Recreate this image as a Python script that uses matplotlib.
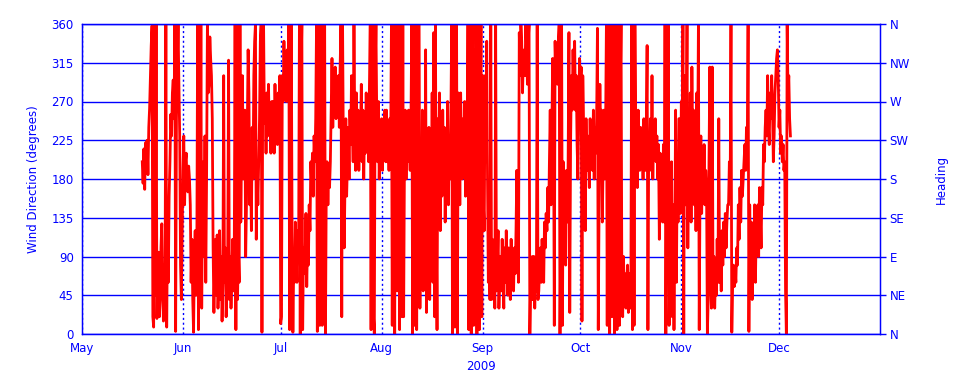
import numpy as np
import pandas as pd
import matplotlib
matplotlib.use("Agg")
import matplotlib.pyplot as plt
import matplotlib.dates as mdates

# wind direction (degrees), one reading every 6 hours from May 19 12:00
direction = [
    200, 175, 215, 168, 222, 190, 225, 185, 240, 262, 300, 335, 358, 20, 8, 360, 45, 360, 18, 90,
    95, 20, 40, 100, 128, 55, 15, 80, 60, 360, 8, 120, 60, 160, 200, 255, 230, 280, 295, 250,
    360, 3, 250, 310, 360, 290, 230, 80, 40, 120, 190, 230, 150, 200, 210, 170, 165, 195, 180, 150,
    60, 110, 40, 2, 85, 120, 45, 90, 360, 5, 120, 60, 360, 30, 150, 200, 90, 230, 60, 180,
    360, 280, 290, 345, 320, 300, 250, 100, 25, 80, 110, 45, 115, 30, 70, 120, 40, 90, 15, 60,
    300, 60, 100, 20, 50, 100, 318, 40, 90, 30, 70, 110, 50, 100, 360, 5, 360, 40, 100, 60,
    360, 130, 210, 300, 180, 220, 260, 90, 150, 240, 330, 280, 150, 200, 120, 240, 180, 300, 340, 360,
    110, 190, 150, 200, 250, 340, 360, 2, 300, 360, 245, 270, 210, 280, 230, 290, 240, 260, 210, 270,
    230, 270, 210, 290, 240, 250, 220, 280, 260, 300, 12, 20, 300, 270, 340, 290, 320, 270, 330, 300,
    360, 5, 200, 360, 120, 2, 80, 60, 130, 100, 60, 120, 90, 360, 0, 300, 360, 5, 100, 70,
    90, 140, 55, 110, 80, 150, 120, 200, 175, 210, 160, 230, 200, 250, 360, 3, 300, 360, 10, 200,
    360, 10, 300, 150, 360, 0, 170, 200, 150, 190, 170, 200, 260, 320, 240, 300, 280, 310, 250, 290,
    280, 300, 240, 310, 360, 20, 360, 210, 100, 180, 250, 160, 200, 240, 180, 260, 220, 300, 250, 200,
    360, 240, 190, 280, 220, 260, 190, 250, 230, 290, 200, 260, 180, 240, 210, 280, 230, 260, 200, 290,
    360, 5, 340, 360, 20, 0, 300, 360, 250, 200, 270, 180, 230, 210, 250, 190, 240, 220, 260, 200,
    260, 200, 240, 190, 250, 210, 360, 10, 300, 360, 0, 330, 360, 50, 200, 360, 5, 250, 360, 20,
    360, 20, 200, 260, 180, 240, 200, 260, 220, 190, 250, 360, 0, 360, 10, 300, 360, 5, 200, 360,
    360, 30, 180, 90, 260, 50, 220, 120, 330, 25, 160, 80, 240, 40, 190, 110, 280, 60, 350, 20,
    360, 140, 5, 250, 180, 280, 120, 220, 160, 260, 190, 240, 130, 210, 170, 270, 150, 230, 180, 250,
    360, 0, 310, 360, 8, 200, 360, 0, 280, 260, 150, 280, 220, 180, 250, 200, 270, 160, 240, 210,
    360, 5, 300, 360, 0, 250, 360, 10, 330, 200, 360, 0, 280, 360, 5, 220, 360, 20, 300, 150,
    120, 300, 200, 340, 180, 60, 100, 40, 360, 40, 110, 60, 90, 30, 360, 50, 80, 120, 30, 70,
    90, 50, 110, 70, 30, 100, 60, 120, 80, 45, 100, 70, 40, 110, 60, 90, 50, 100, 70, 120,
    190, 110, 60, 350, 300, 360, 340, 280, 320, 330, 300, 360, 330, 290, 340, 360, 0, 60, 40, 90,
    40, 90, 30, 70, 50, 360, 40, 50, 80, 100, 60, 110, 80, 60, 130, 100, 140, 120, 170, 130,
    200, 260, 150, 230, 320, 280, 10, 340, 300, 320, 290, 340, 360, 0, 120, 360, 10, 200, 150, 100,
    80, 190, 130, 200, 350, 25, 220, 300, 260, 330, 280, 340, 260, 300, 220, 180, 250, 320, 280, 310,
    15, 300, 240, 200, 120, 250, 190, 230, 210, 170, 250, 200, 230, 190, 260, 180, 240, 210, 250, 355,
    5, 150, 290, 200, 260, 130, 200, 260, 180, 240, 360, 10, 340, 360, 0, 300, 360, 20, 280, 360,
    0, 300, 360, 5, 320, 360, 10, 280, 360, 50, 20, 90, 40, 70, 30, 60, 80, 25, 55, 70,
    30, 360, 5, 360, 10, 360, 250, 200, 170, 260, 220, 190, 240, 200, 230, 180, 250, 210, 190, 240,
    335, 5, 230, 200, 250, 190, 300, 180, 240, 210, 250, 200, 230, 180, 220, 110, 210, 150, 190, 130,
    220, 130, 360, 0, 180, 100, 360, 10, 90, 40, 200, 20, 150, 5, 120, 260, 60, 200, 130, 250,
    250, 140, 270, 200, 360, 0, 300, 150, 220, 360, 100, 230, 180, 280, 130, 310, 200, 260, 150, 240,
    120, 280, 200, 360, 5, 170, 230, 140, 200, 160, 220, 150, 190, 170, 0, 40, 200, 310, 60, 30,
    310, 40, 90, 30, 70, 45, 110, 60, 250, 60, 100, 50, 120, 80, 130, 90, 140, 100, 130, 150,
    150, 200, 170, 360, 2, 60, 80, 55, 75, 60, 100, 80, 150, 110, 170, 130, 190, 160, 180, 200,
    220, 190, 240, 210, 360, 3, 150, 60, 130, 40, 110, 80, 150, 60, 120, 100, 150, 90, 170, 140,
    100, 170, 150, 220, 200, 240, 260, 230, 300, 240, 220, 280, 250, 300, 260, 200, 230, 280, 300, 320,
    330, 300, 240, 260, 210, 230, 200, 220, 190, 200, 50, 0, 360, 280, 300, 250, 230,
]
times = pd.date_range("2009-05-19 12:00", periods=len(direction), freq="6h")

deg_ticks = [0, 45, 90, 135, 180, 225, 270, 315, 360]
headings = ["N", "NE", "E", "SE", "S", "SW", "W", "NW", "N"]
month_starts = pd.date_range("2009-05-01", "2009-12-01", freq="MS")

blue = "#0000ff"
plt.rcParams["font.family"] = "DejaVu Sans"
plt.rcParams["font.size"] = 8.5

fig = plt.figure(figsize=(9.6, 3.84), dpi=100)
ax = fig.add_axes([82 / 960, 50 / 384, 798 / 960, 310 / 384])

# grid behind the data
for y in deg_ticks:
    ax.axhline(y, color=blue, lw=1, zorder=1)
for m in month_starts:
    ax.axvline(m, color=blue, lw=1, ls=(0, (1.5, 2)), zorder=1)

ax.plot(times, direction, color="red", lw=2.0, zorder=2)

ax.set_xlim(pd.Timestamp("2009-05-01"), pd.Timestamp("2010-01-01"))
ax.set_ylim(0, 360)
ax.set_yticks(deg_ticks)
ax.set_yticklabels([str(d) for d in deg_ticks])
ax.set_xticks(month_starts)
ax.xaxis.set_major_formatter(mdates.DateFormatter("%b"))
ax.tick_params(axis="both", colors=blue, length=0, pad=6)
ax.set_ylabel("Wind Direction (degrees)", color=blue, labelpad=8)
ax.set_xlabel("2009", color=blue, labelpad=3)
for s in ax.spines.values():
    s.set_color(blue)
    s.set_linewidth(1)

ax2 = ax.twinx()
ax2.set_ylim(0, 360)
ax2.set_yticks(deg_ticks)
ax2.set_yticklabels(headings)
ax2.tick_params(axis="y", colors=blue, length=4, width=1, pad=3, direction="out")
ax2.set_ylabel("Heading", color=blue, labelpad=18)
for s in ax2.spines.values():
    s.set_color(blue)

fig.savefig("out.png", dpi=100)
